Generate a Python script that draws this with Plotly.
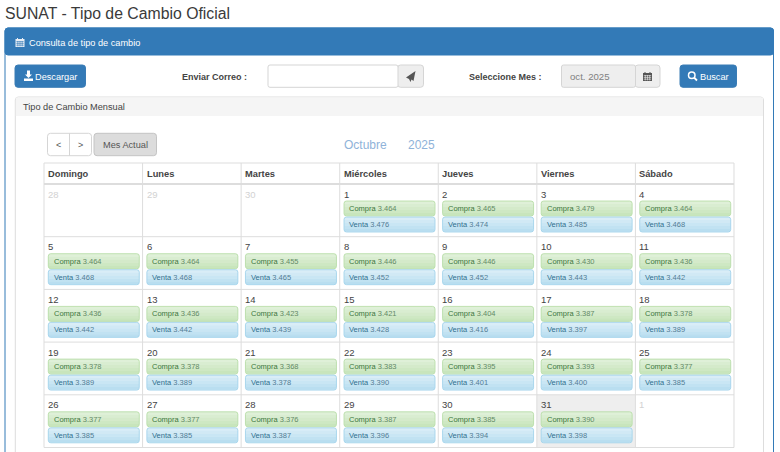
import plotly.graph_objects as go

# calendar content
weekdays = ["Domingo", "Lunes", "Martes", "Miércoles", "Jueves", "Viernes", "Sábado"]
before_month = [28, 29, 30]
after_month = [1]
compra = ["3.464", "3.465", "3.479", "3.464", "3.464", "3.464", "3.455", "3.446", "3.446", "3.430",
          "3.436", "3.436", "3.436", "3.423", "3.421", "3.404", "3.387", "3.378", "3.378", "3.378",
          "3.368", "3.383", "3.395", "3.393", "3.377", "3.377", "3.377", "3.376", "3.387", "3.385",
          "3.390"]
venta = ["3.476", "3.474", "3.485", "3.468", "3.468", "3.468", "3.465", "3.452", "3.452", "3.443",
         "3.442", "3.442", "3.442", "3.439", "3.428", "3.416", "3.397", "3.389", "3.389", "3.389",
         "3.378", "3.390", "3.401", "3.400", "3.385", "3.385", "3.385", "3.387", "3.396", "3.394",
         "3.398"]
first_weekday = 3
today = 31

BLUE = "#337ab7"
FONT = "Liberation Sans"

TABLE_X = 44
COL_W = 98.57
HEAD_Y = 163
ROWS_Y = 184
ROW_H = 52.7

shapes = []
annotations = []


def rounded(x0, y0, x1, y1, r):
    return (f"M{x0 + r},{y0} L{x1 - r},{y0} Q{x1},{y0} {x1},{y0 + r} L{x1},{y1 - r} Q{x1},{y1} {x1 - r},{y1} "
            f"L{x0 + r},{y1} Q{x0},{y1} {x0},{y1 - r} L{x0},{y0 + r} Q{x0},{y0} {x0 + r},{y0} Z")


def box(x0, y0, x1, y1, fill=None, line=None, r=0, width=1):
    shapes.append(dict(type="path", path=rounded(x0, y0, x1, y1, r),
                       fillcolor=fill or "rgba(0,0,0,0)",
                       line=dict(color=line or "rgba(0,0,0,0)", width=width if line else 0)))


def hline(x0, x1, y, color, width=1):
    shapes.append(dict(type="line", x0=x0, x1=x1, y0=y, y1=y, line=dict(color=color, width=width)))


def vline(x, y0, y1, color, width=1):
    shapes.append(dict(type="line", x0=x, x1=x, y0=y0, y1=y1, line=dict(color=color, width=width)))


def label(x, y, text, size=10, color="#333333", anchor="left", bold=False):
    if bold:
        text = f"<b>{text}</b>"
    # annotations keep 1px of padding around the text, take it back
    if anchor == "left":
        x -= 1
    annotations.append(dict(x=x, y=y, text=text, showarrow=False, xanchor=anchor, yanchor="middle",
                            borderpad=0, font=dict(family=FONT, size=size, color=color)))


def calendar_icon(x, y, color, grid):
    # x,y is the top left corner of a 9px glyph
    box(x, y + 1, x + 9, y + 9, fill=color)
    for i in range(3):
        hline(x + 0.8, x + 8.2, y + 3.6 + i * 1.8, grid, 0.6)
    for i in range(3):
        vline(x + 2.3 + i * 2.2, y + 3, y + 8.4, grid, 0.6)
    vline(x + 2, y, y + 2, color, 1)
    vline(x + 7, y, y + 2, color, 1)


def pill(x0, y0, x1, y1, top, bottom, border):
    steps = 5
    a = [int(top[i:i + 2], 16) for i in (1, 3, 5)]
    b = [int(bottom[i:i + 2], 16) for i in (1, 3, 5)]
    box(x0, y0, x1, y1, fill=top, r=2.5)
    for s in range(steps):
        c = [round(a[k] + (b[k] - a[k]) * s / (steps - 1)) for k in range(3)]
        sy0 = y0 + (y1 - y0) * s / steps
        sy1 = y0 + (y1 - y0) * (s + 1) / steps
        if s == 0 or s == steps - 1:
            box(x0 + 1, sy0 + 0.5 * (s == 0), x1 - 1, sy1 - 0.5 * (s != 0), fill=f"rgb({c[0]},{c[1]},{c[2]})")
            box(x0 + 0.3, sy0 + 1.5 * (s == 0), x1 - 0.3, sy1 - 1.5 * (s != 0), fill=f"rgb({c[0]},{c[1]},{c[2]})")
        else:
            box(x0 + 0.3, sy0, x1 - 0.3, sy1, fill=f"rgb({c[0]},{c[1]},{c[2]})")
    box(x0, y0, x1, y1, line=border, r=2.5, width=0.8)


# page title and outer panel
label(5, 13, "SUNAT - Tipo de Cambio Oficial", size=15.8, color="#3a3a3a")
box(5, 28, 773.5, 470, fill="#ffffff", line=BLUE, r=3)
box(5, 28, 773.5, 55, fill=BLUE, line=BLUE, r=3)
calendar_icon(15.5, 38, "#e8eef5", BLUE)
label(29, 42.5, "Consulta de tipo de cambio", size=9.2, color="#ffffff")

# toolbar
box(15, 65, 85.5, 87.3, fill=BLUE, line="#3a7cb5", r=3)
shapes.append(dict(type="path", path="M27,70.5 L30,70.5 L30,74.5 L32,74.5 L28.5,78 L25,74.5 L27,74.5 Z",
                   fillcolor="#ffffff", line=dict(width=0)))
box(24, 78.6, 33, 81, fill="#ffffff")
label(35, 76.5, "Descargar", size=9.2, color="#ffffff")
label(182, 76.5, "Enviar Correo :", size=9, color="#444444", bold=True)
box(397.5, 65, 423.5, 87.3, fill="#eeeeee", line="#d5d5d5", r=3)
box(268, 65, 398, 87.3, fill="#ffffff", line="#d5d5d5", r=2)
shapes.append(dict(type="path", path="M415.5,71 L406,77.5 L409,79 L410.5,82 L411.5,79.5 L413.5,81 Z",
                   fillcolor="#555555", line=dict(width=0)))
label(468.5, 76.5, "Seleccione Mes :", size=9, color="#444444", bold=True)
box(635, 65, 660, 87.3, fill="#eeeeee", line="#d5d5d5", r=3)
box(561.5, 65, 635.5, 87.3, fill="#eeeeee", line="#d5d5d5", r=2)
label(570, 76.5, "oct. 2025", size=9.6, color="#808080")
calendar_icon(643, 72, "#555555", "#eeeeee")
box(680, 65, 736.5, 87.3, fill=BLUE, line="#3a7cb5", r=3)
shapes.append(dict(type="circle", x0=688.5, x1=695, y0=72, y1=78.5, line=dict(color="#ffffff", width=1.5)))
shapes.append(dict(type="line", x0=694, x1=697, y0=77.5, y1=80.5, line=dict(color="#ffffff", width=1.8)))
label(700, 76.5, "Buscar", size=9.2, color="#ffffff")

# inner panel
box(15.3, 97, 763.5, 470, fill="#ffffff", line="#dddddd", r=3)
box(15.8, 97.5, 763, 116, fill="#f5f5f5")
label(23, 107, "Tipo de Cambio Mensual", size=9.2, color="#444444")

# calendar navigation
box(47.5, 133.3, 91.5, 155.7, fill="#ffffff", line="#d5d5d5", r=3)
vline(69.5, 133.3, 155.7, "#d5d5d5")
label(58.5, 145, "&lt;", size=9, color="#555555", anchor="center")
label(80.5, 145, "&gt;", size=9, color="#555555", anchor="center")
box(94, 133.3, 156.5, 155.7, fill="#dcdcdc", line="#c4c4c4", r=3)
label(125.5, 144.5, "Mes Actual", size=9.2, color="#555555", anchor="center")
label(344, 144.5, "Octubre", size=12, color="#8fb3d9")
label(408, 144.5, "2025", size=12, color="#8fb3d9")

# calendar grid
rows = 5
today_pos = first_weekday + today - 1
box(TABLE_X + (today_pos % 7) * COL_W, ROWS_Y + (today_pos // 7) * ROW_H,
    TABLE_X + (today_pos % 7 + 1) * COL_W, ROWS_Y + (today_pos // 7 + 1) * ROW_H, fill="#eeeeee")
hline(TABLE_X, TABLE_X + 7 * COL_W, HEAD_Y, "#dddddd")
hline(TABLE_X, TABLE_X + 7 * COL_W, ROWS_Y, "#dddddd", 2)
for r in range(1, rows + 1):
    hline(TABLE_X, TABLE_X + 7 * COL_W, ROWS_Y + r * ROW_H, "#dddddd")
for c in range(8):
    vline(TABLE_X + c * COL_W, HEAD_Y, ROWS_Y + rows * ROW_H, "#dddddd")

for c, name in enumerate(weekdays):
    label(TABLE_X + c * COL_W + 4, 173.5, name, size=9.3, color="#444444", bold=True)

for c, day in enumerate(before_month):
    label(TABLE_X + c * COL_W + 4, ROWS_Y + 10, str(day), size=9.5, color="#d2d2d2")
for i, day in enumerate(after_month):
    pos = first_weekday + len(compra) + i
    label(TABLE_X + (pos % 7) * COL_W + 4, ROWS_Y + (pos // 7) * ROW_H + 10, str(day), size=9.5, color="#d2d2d2")

for i, (buy, sell) in enumerate(zip(compra, venta)):
    pos = first_weekday + i
    cx = TABLE_X + (pos % 7) * COL_W
    cy = ROWS_Y + (pos // 7) * ROW_H
    label(cx + 4, cy + 10, str(i + 1), size=9.5, color="#444444")
    pill(cx + 4.3, cy + 17, cx + 95.3, cy + 32, "#dff0d8", "#c8e5bc", "#b2dba1")
    pill(cx + 4.3, cy + 33, cx + 95.3, cy + 48, "#d9edf7", "#b9def0", "#9acfea")
    label(cx + 9.7, cy + 24.5, f"Compra <span style='color:#638a66'>{buy}</span>", size=7.5, color="#3c763d")
    label(cx + 9.7, cy + 40.3, f"Venta <span style='color:#527d95'>{sell}</span>", size=7.5, color="#31708f")

fig = go.Figure()
fig.update_layout(
    width=780, height=452,
    margin=dict(l=0, r=0, t=0, b=0),
    paper_bgcolor="#ffffff", plot_bgcolor="#ffffff",
    xaxis=dict(range=[0, 780], visible=False, fixedrange=True),
    yaxis=dict(range=[452, 0], visible=False, fixedrange=True),
    shapes=shapes, annotations=annotations,
    showlegend=False,
)
fig.write_html("out.html", config=dict(displayModeBar=False),
               post_script="document.body.style.margin='0';document.body.style.overflow='hidden';")
